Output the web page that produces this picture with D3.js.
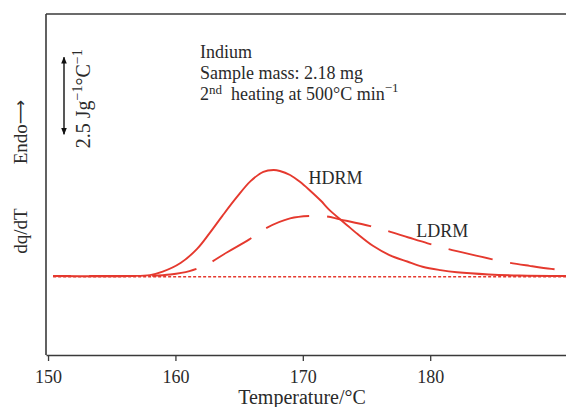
<!DOCTYPE html>
<html>
<head>
<meta charset="utf-8">
<script src="https://cdn.jsdelivr.net/npm/d3@7"></script>
<style>
  html, body { margin: 0; padding: 0; background: #fff; }
  svg { display: block; font-family: "Liberation Serif", "Times New Roman", serif; }
</style>
</head>
<body>
<svg id="chart" width="566" height="407"></svg>
<script>
// DSC traces (heat flow, J g^-1 °C^-1 above baseline) versus temperature (°C)
const hdrmTemp = [150.4, 156.4, 158.0, 159.0, 160.4, 161.7, 162.7, 163.7, 164.8, 165.9, 166.9, 167.7, 168.2, 169.0, 169.8, 170.6, 171.4, 172.1, 172.9, 173.7, 174.3, 175.5, 176.8, 178.2, 179.4, 180.8, 182.1, 184.6, 187.0, 190.7];
const hdrmFlow = [0, 0, 0.03, 0.14, 0.42, 0.88, 1.40, 1.96, 2.55, 3.08, 3.38, 3.44, 3.41, 3.28, 3.05, 2.76, 2.45, 2.14, 1.85, 1.57, 1.36, 0.98, 0.68, 0.47, 0.30, 0.19, 0.12, 0.05, 0.016, 0];

const ldrmTemp = [150.4, 156.4, 158.2, 159.6, 161.1, 162.4, 164.1, 165.8, 167.1, 169.0, 170.6, 171.9, 172.9, 175.3, 176.6, 178.3, 179.8, 181.2, 183.1, 184.8, 186.1, 187.8, 189.5, 190.7];
const ldrmFlow = [0, 0, 0.01, 0.05, 0.16, 0.36, 0.78, 1.19, 1.55, 1.87, 1.95, 1.93, 1.84, 1.62, 1.47, 1.25, 1.06, 0.90, 0.71, 0.55, 0.44, 0.33, 0.23, 0.18];

const baselineTemp = [150.4, 190.7];
const baselineFlow = [0, 0];

const xTicks = [150, 160, 170, 180];
const xDomain = [149.84, 190.66];
const yDomain = [-2.565, 8.506];

// scale bar: 2.5 J g^-1 °C^-1
const scaleBarFlow = [4.6, 7.1];

const curveLabels = [
  { text: "HDRM", temp: 170.45, flow: 3.0 },
  { text: "LDRM", temp: 178.9, flow: 1.26 }
];

const svg = d3.select("#chart");
const red = "#e5392e";
const ink = "#2a2a2a";

const x = d3.scaleLinear().domain(xDomain).range([46, 566]);
const y = d3.scaleLinear().domain(yDomain).range([355, 14]);

// frame: top and left edges
svg.append("line")
  .attr("x1", x(xDomain[0])).attr("x2", x(xDomain[1]))
  .attr("y1", y(yDomain[1])).attr("y2", y(yDomain[1]))
  .attr("stroke", "#3a3a3a").attr("stroke-width", 1.6);
svg.append("line")
  .attr("x1", x(xDomain[0])).attr("x2", x(xDomain[0]))
  .attr("y1", y(yDomain[1])).attr("y2", y(yDomain[0]))
  .attr("stroke", "#3a3a3a").attr("stroke-width", 1.6);

// bottom axis
const xAxis = d3.axisBottom(x).tickValues(xTicks).tickSize(6).tickSizeOuter(0).tickPadding(9);
const gx = svg.append("g").attr("transform", `translate(0,${y(yDomain[0])})`).call(xAxis);
gx.select(".domain").attr("stroke", "#3a3a3a").attr("stroke-width", 1.6);
gx.selectAll(".tick line").attr("stroke", "#3a3a3a").attr("stroke-width", 1.3);
gx.selectAll(".tick text")
  .attr("fill", ink).attr("font-size", 18)
  .attr("font-family", "Liberation Serif, serif");

svg.append("text")
  .attr("x", 302).attr("y", 404)
  .attr("text-anchor", "middle").attr("font-size", 20).attr("fill", ink)
  .text("Temperature/°C");

// y-axis labels
svg.append("text")
  .attr("transform", `translate(27,231) rotate(-90)`)
  .attr("text-anchor", "middle").attr("font-size", 19).attr("fill", ink)
  .text("dq/dT");
const endo = svg.append("text")
  .attr("transform", `translate(27,132) rotate(-90)`)
  .attr("text-anchor", "middle").attr("font-size", 19).attr("fill", ink);
endo.append("tspan").text("Endo");
endo.append("tspan")
  .attr("font-family", "DejaVu Sans, sans-serif").attr("font-size", 17)
  .attr("dy", -1)
  .text("\u27F6");

// scale bar with double arrow
const defs = svg.append("defs");
["start", "end"].forEach(id => {
  defs.append("marker")
    .attr("id", "arrow-" + id)
    .attr("viewBox", "0 0 10 10")
    .attr("refX", 9).attr("refY", 5)
    .attr("markerWidth", 7).attr("markerHeight", 7)
    .attr("markerUnits", "userSpaceOnUse")
    .attr("orient", id === "start" ? "auto-start-reverse" : "auto")
    .append("path").attr("d", "M0,1 L10,5 L0,9 Z").attr("fill", "#111");
});
svg.append("line")
  .attr("x1", 64).attr("x2", 64)
  .attr("y1", y(scaleBarFlow[1])).attr("y2", y(scaleBarFlow[0]))
  .attr("stroke", "#111").attr("stroke-width", 1.4)
  .attr("marker-start", "url(#arrow-start)")
  .attr("marker-end", "url(#arrow-end)");

const scaleText = svg.append("text")
  .attr("transform", `translate(90,${y(d3.mean(scaleBarFlow)) + 3}) rotate(-90)`)
  .attr("text-anchor", "middle").attr("font-size", 20).attr("fill", ink);
scaleText.append("tspan").text("2.5 Jg");
scaleText.append("tspan").attr("font-size", 14).attr("dy", -8).text("\u22121");
scaleText.append("tspan").attr("dy", 8).text("°C");
scaleText.append("tspan").attr("font-size", 14).attr("dy", -8).text("\u22121");

// annotation block
const note = svg.append("text").attr("font-size", 18).attr("fill", ink);
note.append("tspan").attr("x", 200).attr("y", 58).text("Indium");
note.append("tspan").attr("x", 200).attr("y", 79).text("Sample mass: 2.18 mg");
note.append("tspan").attr("x", 200).attr("y", 99.5).text("2");
note.append("tspan").attr("font-size", 13).attr("dy", -6).text("nd");
note.append("tspan").attr("dy", 6).attr("dx", 9).text("heating at 500°C min");
note.append("tspan").attr("font-size", 13).attr("dy", -8).text("\u22121");

// curves
const line = d3.line()
  .x(d => x(d[0]))
  .y(d => y(d[1]))
  .curve(d3.curveCatmullRom.alpha(0.5));

const zip = (a, b) => a.map((v, i) => [v, b[i]]);

svg.append("path")
  .datum(zip(baselineTemp, baselineFlow))
  .attr("d", line)
  .attr("fill", "none").attr("stroke", red)
  .attr("stroke-width", 1.6).attr("stroke-dasharray", "3,2")
  .attr("transform", "translate(0,0.8)");

const ldrmPath = svg.append("path")
  .datum(zip(ldrmTemp, ldrmFlow))
  .attr("d", line)
  .attr("fill", "none").attr("stroke", red)
  .attr("stroke-width", 1.9);

// phase the dash pattern so that a dash begins just past the peak
const dash = 45, gap = 18, period = dash + gap;
const node = ldrmPath.node();
const total = node.getTotalLength();
const target = x(171.9);
let lo = 0, hi = total;
for (let i = 0; i < 40; i++) {
  const mid = (lo + hi) / 2;
  if (node.getPointAtLength(mid).x < target) lo = mid; else hi = mid;
}
const offset = (period - (lo % period)) % period;
ldrmPath.attr("stroke-dasharray", `${dash},${gap}`).attr("stroke-dashoffset", offset);

svg.append("path")
  .datum(zip(hdrmTemp, hdrmFlow))
  .attr("d", line)
  .attr("fill", "none").attr("stroke", red)
  .attr("stroke-width", 1.9);

svg.selectAll(".curve-label")
  .data(curveLabels)
  .enter().append("text")
  .attr("class", "curve-label")
  .attr("x", d => x(d.temp)).attr("y", d => y(d.flow))
  .attr("font-size", 18).attr("fill", ink)
  .text(d => d.text);
</script>
</body>
</html>
